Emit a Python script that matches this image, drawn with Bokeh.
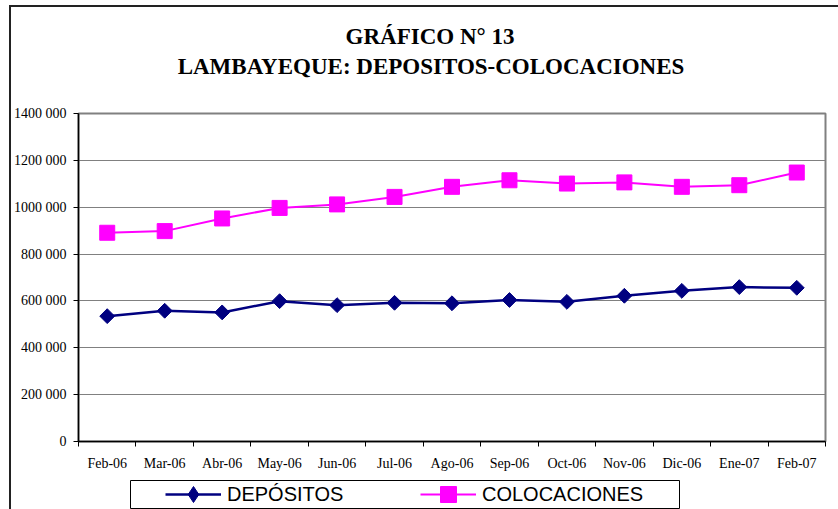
import math
from bokeh.plotting import figure
from bokeh.layouts import column, row
from bokeh.models import FixedTicker, Range1d, Legend, LegendItem, Div, Spacer
from bokeh.embed import file_html
from bokeh.resources import INLINE

months = ["Feb-06", "Mar-06", "Abr-06", "May-06", "Jun-06", "Jul-06", "Ago-06",
          "Sep-06", "Oct-06", "Nov-06", "Dic-06", "Ene-07", "Feb-07"]
depositos = [535000, 558000, 551000, 599000, 582000, 592000, 590000,
             604000, 596000, 622000, 643000, 659000, 656000]
colocaciones = [891000, 898000, 952000, 997000, 1012000, 1044000, 1087000,
                1115000, 1101000, 1106000, 1087000, 1094000, 1148000]
y_ticks = [0, 200000, 400000, 600000, 800000, 1000000, 1200000, 1400000]
y_tick_labels = ["0", "200 000", "400 000", "600 000", "800 000",
                 "1000 000", "1200 000", "1400 000"]
title_1 = "GRÁFICO N° 13"
title_2 = "LAMBAYEQUE: DEPOSITOS-COLOCACIONES"
series_names = ["DEPÓSITOS", "COLOCACIONES"]
dep_color = "#000080"
col_color = "#FF00FF"

n = len(months)
xs = list(range(n))

W = 838
TITLE_H = 100
LEG_H = 30
FIG_H = 509 - TITLE_H - LEG_H
border_bg = "linear-gradient(#222,#222) 9px 0 / 2px 100% no-repeat"

title_html = (
    '<div style="position:relative;width:838px;height:100px;'
    "font-family:'Liberation Serif',serif;font-weight:bold;font-size:23px;"
    'color:black;line-height:normal;">'
    '<div style="position:absolute;left:9px;top:5px;width:829px;height:2px;background:#222;"></div>'
    '<div style="position:absolute;left:9px;top:5px;width:2px;height:95px;background:#222;"></div>'
    '<div style="position:absolute;left:0;top:24px;width:860px;text-align:center;white-space:nowrap;">'
    + title_1 + '</div>'
    '<div style="position:absolute;left:0;top:54px;width:862px;text-align:center;white-space:nowrap;">'
    + title_2 + '</div>'
    '</div>'
)
head = Div(text=title_html, width=W, height=TITLE_H, margin=0)

p = figure(width=W, height=FIG_H, output_backend="svg", toolbar_location=None,
           x_range=Range1d(-0.5, n - 0.5), y_range=Range1d(0, 1400000),
           min_border_left=78, min_border_right=13, min_border_top=13,
           min_border_bottom=38, margin=0)
p.styles = {"background": border_bg}
p.background_fill_color = "white"
p.border_fill_alpha = 0
p.outline_line_color = "#808080"
p.outline_line_width = 2

xa = p.xaxis[0]
xa.ticker = FixedTicker(ticks=xs, minor_ticks=[i - 0.5 for i in range(n + 1)])
xa.major_label_overrides = {i: m for i, m in enumerate(months)}
xa.major_tick_line_color = None
xa.major_tick_out = 0
xa.major_tick_in = 0
xa.minor_tick_line_color = "black"
xa.minor_tick_out = 5
xa.minor_tick_in = 0
xa.major_label_standoff = 9
xa.axis_line_color = "black"
xa.axis_line_width = 1.5
xa.major_label_text_font = "Liberation Serif"
xa.major_label_text_font_size = "14px"
xa.major_label_text_color = "black"

ya = p.yaxis[0]
ya.ticker = FixedTicker(ticks=y_ticks)
ya.major_label_overrides = {t: l for t, l in zip(y_ticks, y_tick_labels)}
ya.major_tick_line_color = "black"
ya.major_tick_out = 5
ya.major_tick_in = 0
ya.minor_tick_line_color = None
ya.major_label_standoff = 7
ya.axis_line_color = "black"
ya.axis_line_width = 1.5
ya.major_label_text_font = "Liberation Serif"
ya.major_label_text_font_size = "14px"
ya.major_label_text_color = "black"

p.xgrid.visible = False
p.ygrid.grid_line_color = "#808080"
p.ygrid.grid_line_width = 1

p.line(xs, depositos, line_color=dep_color, line_width=2.5)
p.scatter(xs, depositos, marker="square", angle=math.pi / 4, size=10.5,
          fill_color=dep_color, line_color=dep_color)
p.line(xs, colocaciones, line_color=col_color, line_width=2)
p.scatter(xs, colocaciones, marker="square", size=15,
          fill_color=col_color, line_color=col_color)

# Legend strip: its frame outline is the legend box; the series drawn here fall
# outside its ranges, so only their legend glyphs show.
LEG_W = 551
lp = figure(width=LEG_W, height=LEG_H, output_backend="svg", toolbar_location=None,
            x_range=Range1d(-1000, -999), y_range=Range1d(-1000, -999),
            x_axis_type=None, y_axis_type=None, margin=0,
            min_border_left=1, min_border_right=1, min_border_top=1, min_border_bottom=0)
lp.grid.visible = False
lp.background_fill_color = "white"
lp.border_fill_color = "white"
lp.outline_line_color = "black"
lp.outline_line_width = 1
l1 = lp.line(xs, depositos, line_color=dep_color, line_width=2.5)
m1 = lp.scatter(xs, depositos, marker="diamond", size=16,
                fill_color=dep_color, line_color=dep_color)
l2 = lp.line(xs, colocaciones, line_color=col_color, line_width=2)
m2 = lp.scatter(xs, colocaciones, marker="square", size=15,
                fill_color=col_color, line_color=col_color)
legend = Legend(items=[LegendItem(label=series_names[0], renderers=[l1, m1]),
                       LegendItem(label=series_names[1], renderers=[l2, m2])],
                orientation="horizontal", location=(35, -5),
                padding=0, margin=0, spacing=0,
                glyph_width=56, glyph_height=40, label_standoff=6,
                label_width=193, label_height=20,
                label_text_font="Liberation Sans", label_text_font_size="20px",
                label_text_color="black", label_text_baseline="middle",
                border_line_color=None, background_fill_alpha=0)
lp.add_layout(legend, "center")

leg_row = row(Spacer(width=129, height=LEG_H, margin=0, styles={"background": border_bg}),
              lp, spacing=0)
layout = column(head, p, leg_row, spacing=0)
open("out.html", "w").write(file_html(layout, INLINE))
